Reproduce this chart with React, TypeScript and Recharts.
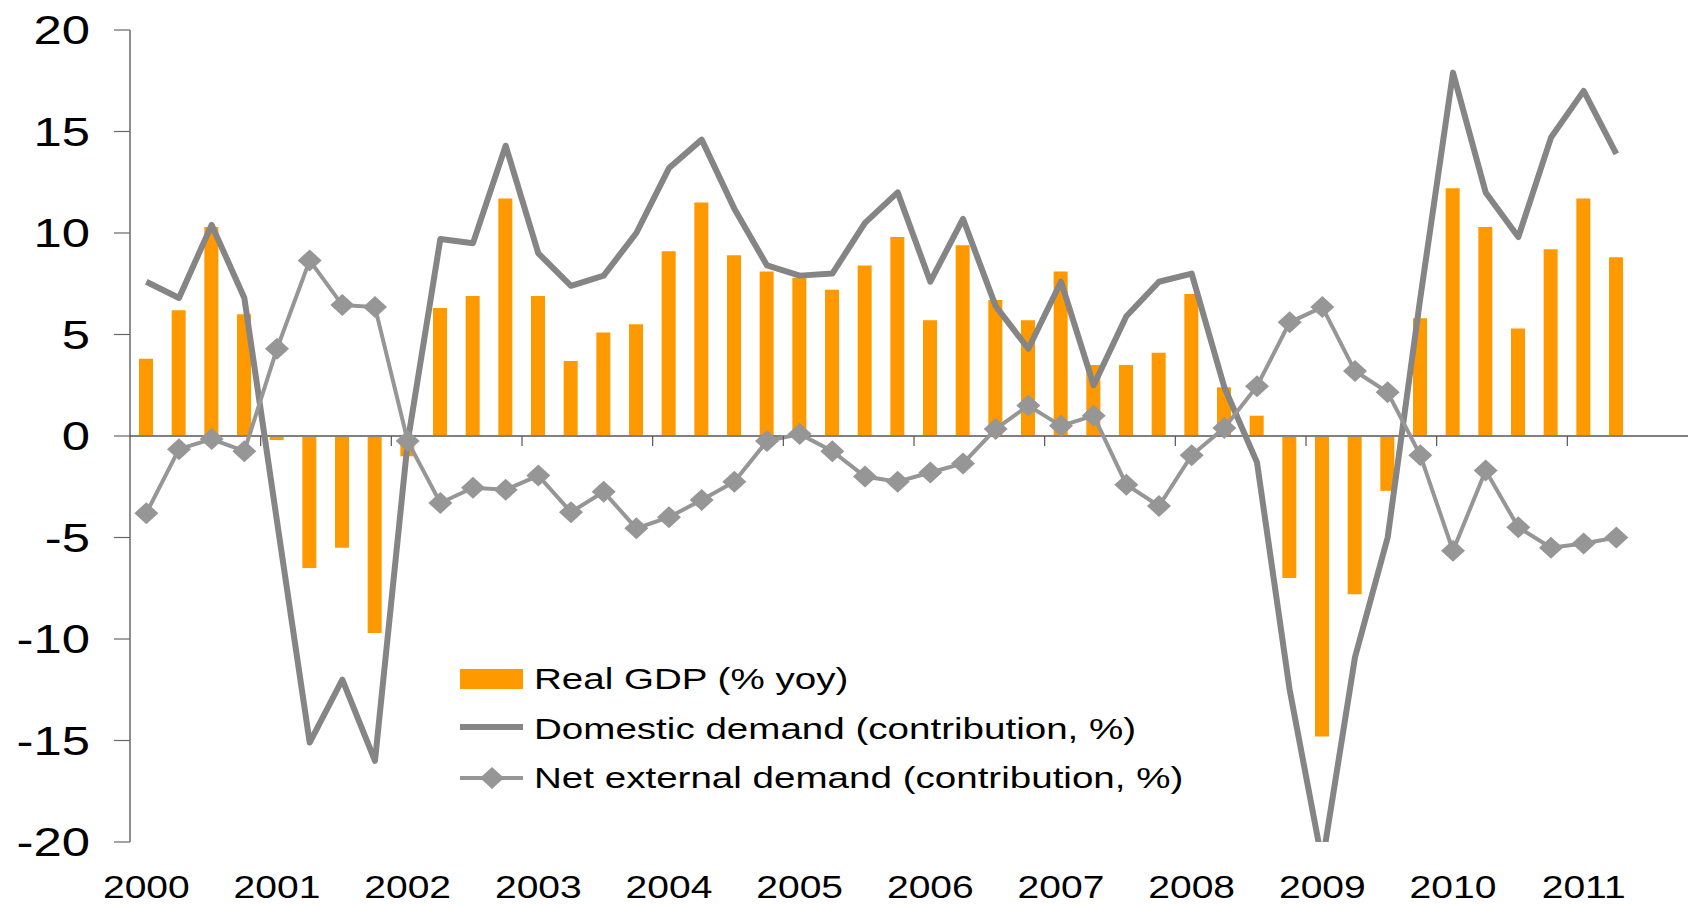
import { Bar, ComposedChart, Legend, Line, ReferenceLine, XAxis, YAxis } from 'recharts'

const YEARS = ['2000', '2001', '2002', '2003', '2004', '2005', '2006', '2007', '2008', '2009', '2010', '2011']
const QUARTERS = YEARS.flatMap((y) => ['Q1', 'Q2', 'Q3', 'Q4'].map((q) => `${y}${q}`))

// real GDP, % yoy (2000Q1 - 2011Q2)
const REAL_GDP = [
  3.8, 6.2, 10.3, 6.0, -0.2, -6.5, -5.5, -9.7, -1.0, 6.3, 6.9, 11.7,
  6.9, 3.7, 5.1, 5.5, 9.1, 11.5, 8.9, 8.1, 7.8, 7.2, 8.4, 9.8,
  5.7, 9.4, 6.7, 5.7, 8.1, 3.5, 3.5, 4.1, 7.0, 2.4, 1.0, -7.0,
  -14.8, -7.8, -2.7, 5.8, 12.2, 10.3, 5.3, 9.2, 11.7, 8.8,
]
const DOMESTIC = [
  7.6, 6.8, 10.4, 6.8, -4.2, -15.1, -12.0, -16.0, -0.3, 9.7, 9.5, 14.3,
  9.0, 7.4, 7.9, 10.0, 13.2, 14.6, 11.2, 8.4, 7.9, 8.0, 10.5, 12.0,
  7.6, 10.7, 6.4, 4.3, 7.6, 2.5, 5.9, 7.6, 8.0, 2.4, -1.3, -12.5,
  -21.0, -10.9, -5.0, 6.8, 17.9, 12.0, 9.8, 14.7, 17.0, 13.9,
]
const NET_EXTERNAL = [
  -3.8, -0.65, -0.15, -0.75, 4.3, 8.65, 6.45, 6.35, -0.25, -3.3, -2.55, -2.65,
  -1.95, -3.75, -2.75, -4.55, -4.0, -3.15, -2.25, -0.25, 0.1, -0.75, -2.0, -2.25,
  -1.8, -1.35, 0.35, 1.5, 0.5, 1.0, -2.4, -3.45, -0.95, 0.4, 2.45, 5.6,
  6.35, 3.2, 2.15, -0.95, -5.65, -1.7, -4.5, -5.5, -5.3, -5.0,
]
const Y_TICKS = [-20, -15, -10, -5, 0, 5, 10, 15, 20]

const data = QUARTERS.map((q, i) => ({
  q,
  gdp: REAL_GDP[i] ?? null,
  dom: DOMESTIC[i] ?? null,
  net: NET_EXTERNAL[i] ?? null,
}))

const FONT = '"Liberation Sans", Arial, Helvetica, sans-serif'
const ORANGE = '#FF9900'
const DOM_GRAY = '#858585'
const NET_GRAY = '#969696'

const W = 1700
const H = 905
const Y_AXIS_W = 130
const X_AXIS_H = 63
const TOP = 30
const RIGHT = 2
const PLOT_W = W - Y_AXIS_W - RIGHT
const PLOT_H = H - TOP - X_AXIS_H
const CAT_W = PLOT_W / QUARTERS.length
const ZERO_Y = TOP + (PLOT_H * 20) / 40

function YTick({ x, y, payload }: any) {
  return (
    <g transform={`translate(${x},${y}) scale(1.27,1)`}>
      <text x={0} y={0} dy="0.36em" textAnchor="end" fontSize={40} fontFamily={FONT} fill="#000">
        {payload.value}
      </text>
    </g>
  )
}

function XTick({ x, y, payload, index }: any) {
  const i = payload?.index ?? index
  if (i % 4 !== 0) return <g />
  const bx = x - CAT_W / 2
  return (
    <g>
      {i > 0 && <line x1={bx} x2={bx} y1={ZERO_Y} y2={ZERO_Y + 10} stroke="#555" strokeWidth={1.2} />}
      <g transform={`translate(${x},${y + 56}) scale(1.28,1)`}>
        <text x={0} y={0} textAnchor="middle" fontSize={30.5} fontFamily={FONT} fill="#000">
          {String(payload.value).slice(0, 4)}
        </text>
      </g>
    </g>
  )
}

function Diamond({ cx, cy }: any) {
  if (cx == null || cy == null) return null
  return <polygon points={`${cx - 12},${cy} ${cx},${cy - 11} ${cx + 12},${cy} ${cx},${cy + 11}`} fill={NET_GRAY} />
}

function LegendText({ x, y, children }: any) {
  return (
    <g transform={`translate(${x},${y}) scale(1.33,1)`}>
      <text x={0} y={0} fontSize={29} fontFamily={FONT} fill="#000">
        {children}
      </text>
    </g>
  )
}

function ChartLegend() {
  return (
    <svg width={820} height={150} style={{ display: 'block', overflow: 'visible' }}>
      <rect x={5} y={19} width={63} height={20} fill={ORANGE} />
      <LegendText x={79} y={39}>Real GDP (% yoy)</LegendText>
      <line x1={5} x2={68} y1={77} y2={77} stroke={DOM_GRAY} strokeWidth={6} />
      <LegendText x={79} y={89}>Domestic demand (contribution, %)</LegendText>
      <line x1={5} x2={68} y1={128} y2={128} stroke={NET_GRAY} strokeWidth={4} />
      <Diamond cx={37} cy={128} />
      <LegendText x={79} y={138}>Net external demand (contribution, %)</LegendText>
    </svg>
  )
}

export default function App() {
  return (
    <div style={{ position: 'absolute', left: 0, top: 0, width: 1688, height: 905, overflow: 'hidden', background: '#fff' }}>
      <ComposedChart width={W} height={H} data={data} margin={{ top: TOP, right: RIGHT, bottom: 0, left: 0 }}>
        <XAxis
          dataKey="q"
          height={X_AXIS_H}
          interval={0}
          axisLine={false}
          tickLine={false}
          tickSize={0}
          tickMargin={0}
          tick={<XTick />}
        />
        <YAxis
          width={Y_AXIS_W}
          domain={[-20, 20]}
          ticks={Y_TICKS}
          allowDataOverflow
          interval={0}
          tickSize={16}
          tickMargin={24}
          axisLine={{ stroke: '#444', strokeWidth: 1.2 }}
          tickLine={{ stroke: '#666', strokeWidth: 1.2 }}
          tick={<YTick />}
        />
        <Bar dataKey="gdp" fill={ORANGE} barSize={14} isAnimationActive={false} />
        <ReferenceLine y={0} stroke="#808080" strokeWidth={2} />
        <Line
          dataKey="dom"
          type="linear"
          stroke={DOM_GRAY}
          strokeWidth={6}
          strokeLinejoin="round"
          dot={false}
          activeDot={false}
          isAnimationActive={false}
        />
        <Line
          dataKey="net"
          type="linear"
          stroke={NET_GRAY}
          strokeWidth={4}
          dot={<Diamond />}
          activeDot={false}
          isAnimationActive={false}
        />
        <Legend
          layout="vertical"
          align="center"
          verticalAlign="middle"
          content={<ChartLegend />}
          wrapperStyle={{ left: 455, top: 650, width: 820, height: 150 }}
        />
      </ComposedChart>
    </div>
  )
}
